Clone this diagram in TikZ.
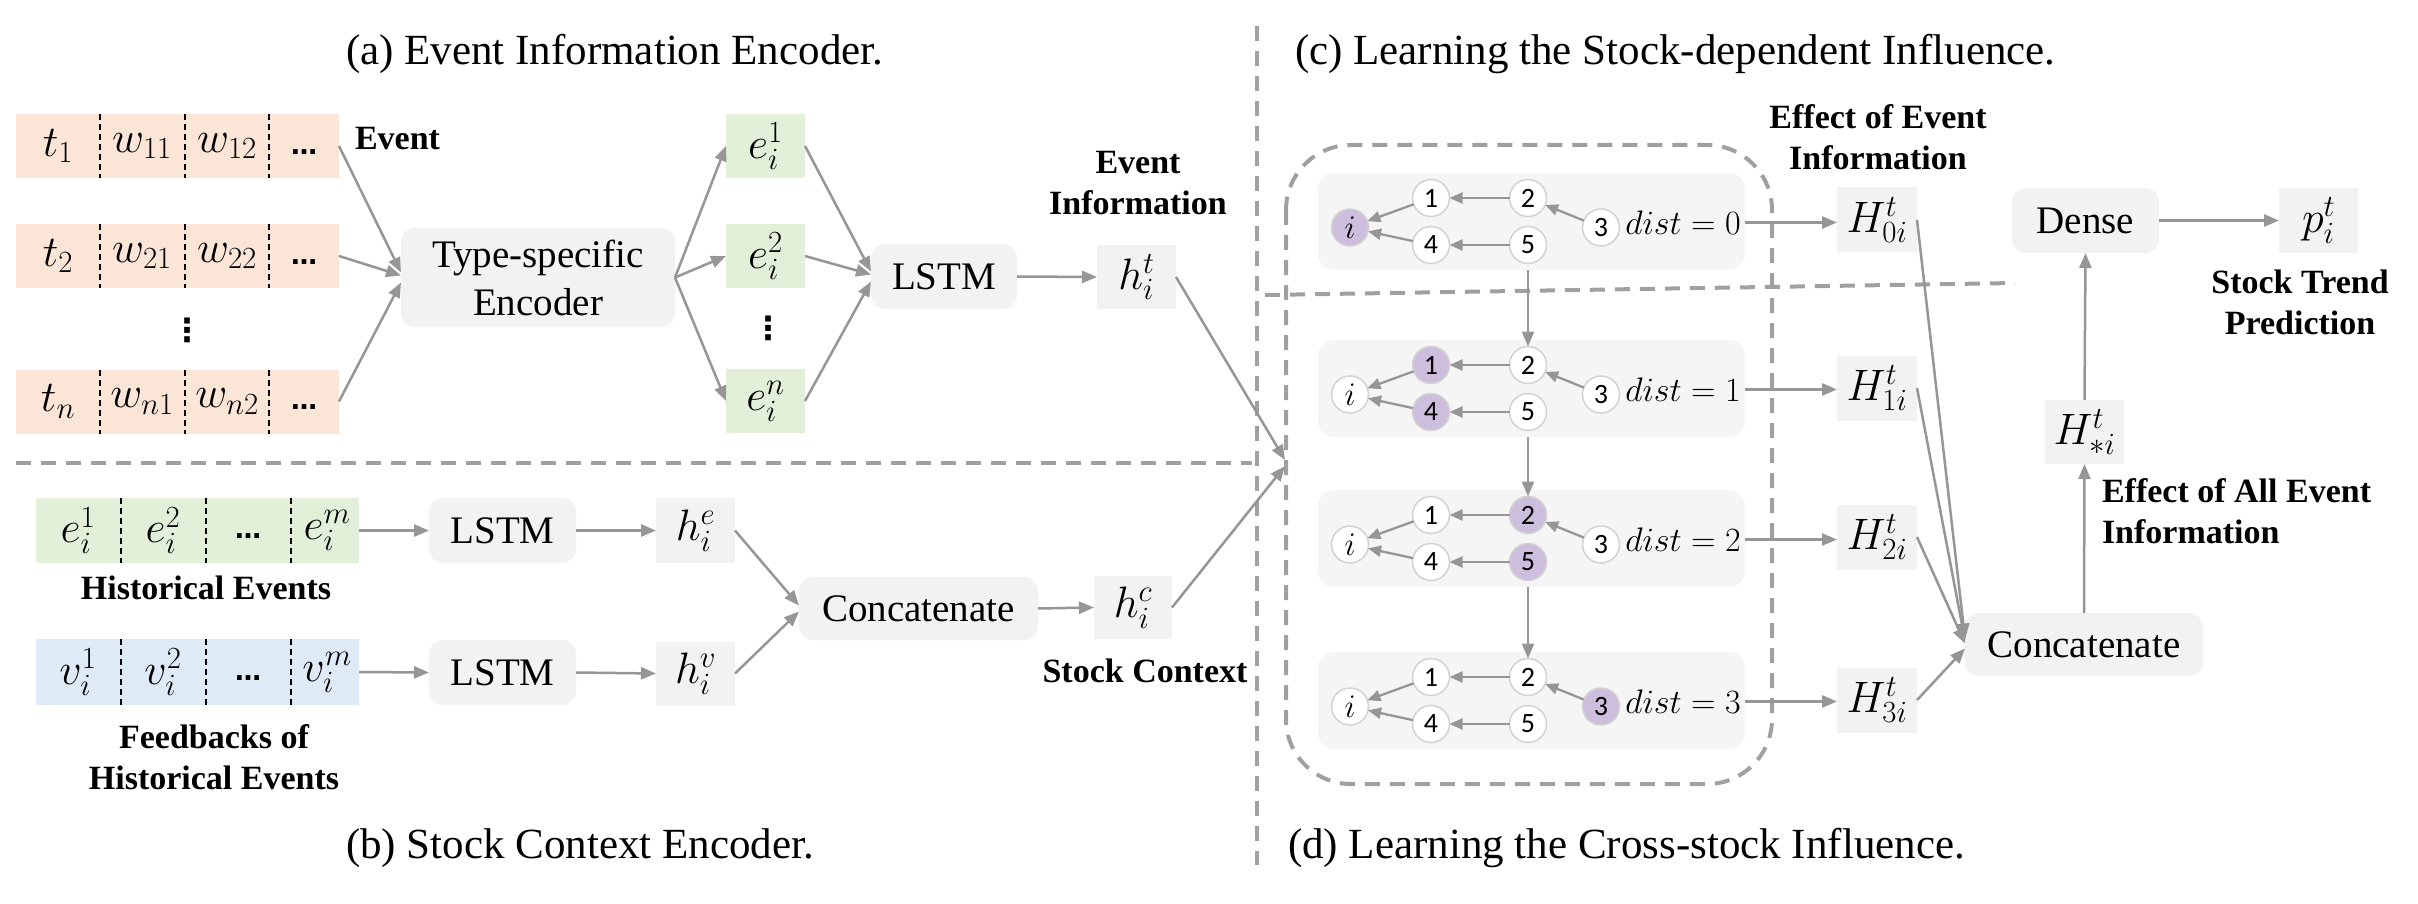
\RequirePackage{fix-cm}
\documentclass[tikz,border=0pt]{standalone}
\usepackage{fontspec}
\setmainfont{Liberation Serif}
\newfontfamily\digfont{Carlito}
\newfontfamily\djv{DejaVu Sans}
\usetikzlibrary{arrows.meta,calc}
\definecolor{peach}{RGB}{251,229,214}
\definecolor{lgreen}{RGB}{226,240,217}
\definecolor{lblue}{RGB}{222,235,247}
\definecolor{boxgray}{RGB}{242,242,242}
\definecolor{panelgray}{RGB}{245,245,245}
\definecolor{purp}{RGB}{206,190,222}
\definecolor{lgray}{RGB}{150,150,150}
\definecolor{dgray}{RGB}{160,160,160}
\definecolor{cgray}{RGB}{210,210,210}
\newcommand\capfs{\fontsize{43}{50}\selectfont}
\newcommand\boxfs{\fontsize{39}{48}\selectfont}
\newcommand\labfs{\fontsize{34}{41}\selectfont\bfseries}
\newcommand\mathfs{\fontsize{44}{52}\selectfont}
\newcommand\distfs{\fontsize{34}{40}\selectfont}
\newcommand\digfs{\fontsize{28}{32}\selectfont\digfont}
\newcommand\ifs{\fontsize{33}{36}\selectfont}
\newcommand\dotsfs{\fontsize{26}{30}\selectfont\djv\bfseries}
\newcommand\gpanel[9]{%
  \node[panel] (p#1) at (1531.5,#2) {};
  \node[gnode,fill=#4,font=\ifs] (g#1i) at (1350,{#2+6}) {$i$};
  \node[gnode,fill=#5] (g#1a) at (1431,{#2-23.5}) {1};
  \node[gnode,fill=#6] (g#1b) at (1528,{#2-23.5}) {2};
  \node[gnode,fill=#7] (g#1c) at (1601,{#2+6}) {3};
  \node[gnode,fill=#8] (g#1d) at (1431,{#2+23.5}) {4};
  \node[gnode,fill=#9] (g#1e) at (1528,{#2+23.5}) {5};
  \node[font=\distfs] (d#1) at (1683,{#2+1}) {$dist = #3$};
  \draw[sarr] (g#1a) -- (g#1i);
  \draw[sarr] (g#1d) -- (g#1i);
  \draw[sarr] (g#1b) -- (g#1a);
  \draw[sarr] (g#1e) -- (g#1d);
  \draw[sarr] (g#1c) -- (g#1b);
}
\begin{document}
\begin{tikzpicture}[x=1pt,y=-1pt,
  every node/.style={inner sep=0pt, outer sep=0pt},
  arr/.style={draw=lgray, line width=2.5pt, -{Triangle[length=15pt,width=12pt]}},
  sarr/.style={draw=lgray, line width=2.3pt, -{Triangle[length=13pt,width=11pt]}},
  dsh/.style={draw=dgray, line width=4pt, dash pattern=on 15pt off 10pt},
  sepl/.style={draw=black, line width=1.4pt, dash pattern=on 6pt off 4pt},
  gbox/.style={fill=boxgray, rounded corners=14pt, font=\boxfs},
  hbox/.style={fill=boxgray, minimum width=79pt, minimum height=64pt, font=\mathfs},
  ebox/.style={fill=lgreen, minimum width=79pt, minimum height=64pt, font=\mathfs},
  rowbox/.style={minimum width=323pt, minimum height=64pt},
  lab/.style={font=\labfs, align=center},
  panel/.style={fill=panelgray, rounded corners=16pt, minimum width=427pt, minimum height=97pt},
  gnode/.style={circle, draw=cgray, line width=1.5pt, minimum size=37pt, font=\digfs},
  mt/.style={font=\mathfs},
  dt/.style={font=\dotsfs}
]
\useasboundingbox (0,0) rectangle (2418,904);
\fill[white] (0,0) rectangle (2418,904);

% titles
\node[anchor=west,font=\capfs] (ta) at (346,54) {(a) Event Information Encoder.};
\node[anchor=west,font=\capfs] (tb) at (346,848) {(b) Stock Context Encoder.};
\node[anchor=west,font=\capfs] (tc) at (1295,54) {(c) Learning the Stock-dependent Influence.};
\node[anchor=west,font=\capfs] (td) at (1288,848) {(d) Learning the Cross-stock Influence.};

% dividers
\draw[dsh] (1257,26) -- (1257,865);
\draw[dsh] (16,463) -- (1252,463);
\draw[dsh] (1265,295) -- (2015,283);
\draw[dsh, rounded corners=65pt] (1286,145) rectangle (1772,784);

% (a) event rows
\foreach \nm/\y/\s in {r1/146/1, r2/256/2, rn/401.5/n} {
  \node[rowbox, fill=peach] (\nm) at (177.5,\y) {};
  \foreach \xx in {100,185,269} \draw[sepl] (\xx,\y-32) -- (\xx,\y+32);
  \node[mt] (\nm-t) at (58,\y) {$t_{\s}$};
  \node[mt] (\nm-w1) at (142,\y) {$w_{\s1}$};
  \node[mt] (\nm-w2) at (227,\y) {$w_{\s2}$};
  \node[dt] (\nm-d) at (304,\y+6) {…};
}
\node[font=\fontsize{32}{36}\selectfont\djv\bfseries] (vd1) at (187,330) {⋮};
\node[lab, anchor=west] (evlab) at (355,139) {Event};

\node[gbox, minimum width=274pt, minimum height=99pt, align=center] (enc) at (538,277.5) {Type-specific\\Encoder};
\draw[arr] (r1.east) -- ($(enc.west)+(0,-5)$);
\draw[arr] (r2.east) -- ($(enc.west)+(0,-2)$);
\draw[arr] (rn.east) -- ($(enc.west)+(0,5)$);

\node[ebox] (e1) at (765.5,146) {$e_i^1$};
\node[ebox] (e2) at (765.5,256) {$e_i^2$};
\node[ebox] (en) at (765.5,401) {$e_i^n$};
\node[font=\fontsize{32}{36}\selectfont\djv\bfseries] (vd2) at (768,328) {⋮};
\draw[arr] (enc.east) -- (e1.west);
\draw[arr] (enc.east) -- (e2.west);
\draw[arr] (enc.east) -- (en.west);

\node[gbox, minimum width=146pt, minimum height=65pt] (l1) at (944,276.5) {LSTM};
\draw[arr] (e1.east) -- ($(l1.west)+(0,-5)$);
\draw[arr] (e2.east) -- ($(l1.west)+(0,-2)$);
\draw[arr] (en.east) -- ($(l1.west)+(0,5)$);
\node[hbox] (ht) at (1136.5,277) {$h_i^t$};
\draw[arr] (l1.east) -- (ht.west);
\node[lab] (evinfo) at (1138,183) {Event\\Information};

% (b) stock context
\node[rowbox, fill=lgreen, minimum height=65pt] (hrow) at (197.5,530.5) {};
\node[rowbox, fill=lblue, minimum height=66pt] (frow) at (197.5,672) {};
\foreach \xx in {121,206,291} {
  \draw[sepl] (\xx,498) -- (\xx,563);
  \draw[sepl] (\xx,639) -- (\xx,705);
}
\node[mt] (he1) at (78,530.5) {$e_i^1$};
\node[mt] (he2) at (163,530.5) {$e_i^2$};
\node[dt] (hed) at (248,536.5) {…};
\node[mt] (hem) at (327,530.5) {$e_i^m$};
\node[mt] (fv1) at (78,672) {$v_i^1$};
\node[mt] (fv2) at (163,672) {$v_i^2$};
\node[dt] (fvd) at (248,678) {…};
\node[mt] (fvm) at (327,672) {$v_i^m$};
\node[lab] (hlab) at (206,588) {Historical Events};
\node[lab] (flab) at (214,757.5) {Feedbacks of\\Historical Events};

\node[gbox, minimum width=147pt, minimum height=65pt] (l2) at (502.5,530.5) {LSTM};
\node[gbox, minimum width=147pt, minimum height=65pt] (l3) at (502.5,672.5) {LSTM};
\draw[arr] (hrow.east) -- (l2.west);
\draw[arr] (frow.east) -- (l3.west);
\node[hbox, minimum height=65pt] (he) at (695.5,530.5) {$h_i^e$};
\node[hbox] (hv) at (695.5,673.5) {$h_i^v$};
\draw[arr] (l2.east) -- (he.west);
\draw[arr] (l3.east) -- (hv.west);
\node[gbox, minimum width=239pt, minimum height=63pt] (c1) at (918.5,608.5) {Concatenate};
\draw[arr] (he.east) -- ($(c1.west)+(0,-3)$);
\draw[arr] (hv.east) -- ($(c1.west)+(0,3)$);
\node[hbox, minimum width=78pt, minimum height=63pt] (hc) at (1133,607.5) {$h_i^c$};
\draw[arr] (c1.east) -- (hc.west);
\node[lab] (sclab) at (1145,671) {Stock Context};

\coordinate (conv) at (1285,463);
\draw[arr] (ht.east) -- ($(conv)+(0,-3)$);
\draw[arr] (hc.east) -- ($(conv)+(0,3)$);

% (c)/(d) panels
\gpanel{1}{221.5}{0}{purp}{white}{white}{white}{white}{white}
\gpanel{2}{388.5}{1}{white}{purp}{white}{white}{purp}{white}
\gpanel{3}{538.5}{2}{white}{white}{purp}{white}{white}{purp}
\gpanel{4}{700.5}{3}{white}{white}{white}{purp}{white}{white}
\draw[arr] (p1.south -| g1e) -- (g2b);
\draw[arr] (p2.south -| g2e) -- (g3b);
\draw[arr] (p3.south -| g3e) -- (g4b);

\node[hbox, minimum width=80pt, minimum height=65pt] (H0) at (1877,220) {$H_{0i}^t$};
\node[hbox, minimum width=80pt, minimum height=65pt] (H1) at (1877,388) {$H_{1i}^t$};
\node[hbox, minimum width=80pt, minimum height=65pt] (H2) at (1877,537) {$H_{2i}^t$};
\node[hbox, minimum width=80pt, minimum height=65pt] (H3) at (1877,700) {$H_{3i}^t$};
\draw[arr] (p1.east |- d1) -- (H0.west |- d1);
\draw[arr] (p2.east |- d2) -- (H1.west |- d2);
\draw[arr] (p3.east |- d3) -- (H2.west |- d3);
\draw[arr] (p4.east |- d4) -- (H3.west |- d4);
\node[lab] (eff1) at (1878,137.5) {Effect of Event\\Information};

\node[gbox, minimum width=238pt, minimum height=63pt] (c2) at (2084,644.5) {Concatenate};
\draw[arr] (H0.east) -- ($(c2.west)+(0,-6)$);
\draw[arr] (H1.east) -- ($(c2.west)+(0,-4)$);
\draw[arr] (H2.east) -- ($(c2.west)+(0,-1)$);
\draw[arr] (H3.east) -- ($(c2.west)+(0,4)$);
\node[hbox] (Hs) at (2084.5,432) {$H_{*i}^t$};
\draw[arr] (c2.north) -- (Hs.south);
\node[lab, anchor=west, align=left] (eff2) at (2102,511) {Effect of All Event\\Information};
\node[gbox, minimum width=147pt, minimum height=65pt] (dense) at (2085.5,220.5) {Dense};
\draw[arr] (Hs.north) -- (dense.south);
\node[hbox, minimum height=65pt] (pp) at (2318.5,220.5) {$p_i^t$};
\draw[arr] (dense.east) -- (pp.west);
\node[lab] (stp) at (2300,302) {Stock Trend\\Prediction};
\end{tikzpicture}
\end{document}
